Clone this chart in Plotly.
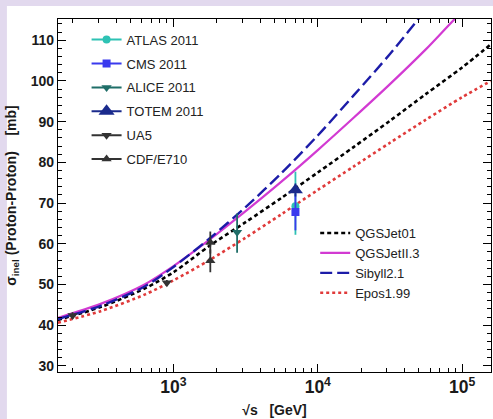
import plotly.graph_objects as go

# ---------------- data ----------------
model_E = [158, 316, 631, 1000, 1778, 3162, 5623, 10000, 17783, 31623, 56234, 100000, 158489]
qgsjet01 = [41.3, 44.5, 49.0, 53.0, 59.5, 65.3, 71.3, 77.5, 83.8, 90.2, 96.8, 103.3, 109.0]
qgsjet2 = [41.8, 45.3, 50.0, 54.5, 61.0, 68.0, 75.3, 83.0, 91.0, 99.2, 107.8, 117.0, 123.0]
sibyll = [41.5, 44.8, 49.5, 54.3, 61.3, 69.0, 77.4, 86.6, 96.5, 106.6, 117.5, 128.0, 136.0]
epos = [40.6, 43.5, 47.5, 51.0, 56.0, 61.5, 67.3, 73.2, 79.0, 84.8, 90.5, 96.0, 100.0]

atlas_E = [7000]; atlas_s = [69.2]; atlas_up = [8.5]; atlas_dn = [7.0]
cms_E = [7000]; cms_s = [67.8]; cms_up = [4.5]; cms_dn = [4.5]
alice_E = [2760]; alice_s = [62.8]; alice_up = [4.6]; alice_dn = [5.0]
totem_E = [7000]; totem_s = [73.2]; totem_up = [1.6]; totem_dn = [1.6]
ua5_E = [200, 900]; ua5_s = [42.4, 50.4]; ua5_err = [0.8, 0.7]
cdf_E = [1800, 1800]; cdf_s = [60.3, 55.8]; cdf_err = [2.7, 2.8]

x_range_log = [2.2, 5.2]
y_range = [28.5, 115.2]

# ---------------- figure ----------------
FONT = "Liberation Sans, Arial, sans-serif"
fig = go.Figure()

curve_styles = [
    ("QGSJet01", qgsjet01, dict(color="black", width=2.6, dash="4px,3px")),
    ("QGSJetII.3", qgsjet2, dict(color="#d23ad2", width=2.2)),
    ("Sibyll2.1", sibyll, dict(color="#1c1ca8", width=2.4, dash="12px,5px")),
    ("Epos1.99", epos, dict(color="#e03a3a", width=2.6, dash="dot")),
]
for name, vals, ln in curve_styles:
    fig.add_trace(go.Scatter(x=model_E, y=vals, mode="lines", name=name,
                             line=dict(shape="spline", smoothing=0.8, **ln),
                             legend="legend2", legendgroup=name))

points = [
    ("ATLAS 2011", atlas_E, atlas_s, atlas_up, atlas_dn, "circle", 8, "#2ec2b4"),
    ("CMS 2011", cms_E, cms_s, cms_up, cms_dn, "square", 8, "#3a3aee"),
    ("ALICE 2011", alice_E, alice_s, alice_up, alice_dn, "triangle-down", 9, "#1f6e68"),
    ("TOTEM 2011", totem_E, totem_s, totem_up, totem_dn, "triangle-up", 13, "#1a2a8c"),
    ("UA5", ua5_E, ua5_s, ua5_err, ua5_err, "triangle-down", 9, "#333333"),
    ("CDF/E710", cdf_E, cdf_s, cdf_err, cdf_err, "triangle-up", 9, "#333333"),
]
for name, ex, ey, up, dn, sym, sz, col in points:
    fig.add_trace(go.Scatter(
        x=ex, y=ey, mode="markers", name=name, showlegend=False,
        marker=dict(symbol=sym, size=sz, color=col),
        error_y=dict(type="data", symmetric=False, array=up, arrayminus=dn,
                     color=col, thickness=1.8, width=0),
    ))
    fig.add_trace(go.Scatter(
        x=[None], y=[None], mode="lines+markers", name=name, legendgroup=name,
        marker=dict(symbol=sym, size=sz + (1 if sz > 10 else 0), color=col),
        line=dict(color=col, width=2), legend="legend",
    ))

# white panel over lavender background
fig.add_shape(type="rect", xref="paper", yref="paper",
              x0=-0.118, x1=1.01, y0=-0.14, y1=1.037,
              fillcolor="white", line=dict(width=0), layer="below")

axis_common = dict(showline=True, linecolor="black", linewidth=1.2, mirror="allticks",
                   ticks="inside", ticklen=8, tickwidth=1, tickcolor="black",
                   showgrid=False, zeroline=False,
                   tickfont=dict(family=FONT, size=14, color="#1a1a1a", weight="bold"))

fig.update_xaxes(type="log", range=x_range_log, dtick=1, exponentformat="power",
                 minor=dict(ticks="inside", ticklen=4, dtick="D1", tickcolor="black"),
                 title=dict(text="√s\u00a0\u00a0\u00a0[GeV]", standoff=8,
                            font=dict(family=FONT, size=14, color="#1a1a1a", weight="bold")),
                 **axis_common)
fig.update_yaxes(range=y_range, dtick=10, tick0=0,
                 minor=dict(ticks="inside", ticklen=4, dtick=2, tickcolor="black"),
                 title=dict(text="σ<sub>inel</sub> (Proton-Proton)\u00a0\u00a0\u00a0\u00a0[mb]",
                            standoff=10,
                            font=dict(family=FONT, size=14, color="#1a1a1a", weight="bold")),
                 **axis_common)

fig.update_layout(
    width=493, height=419,
    margin=dict(l=58, r=2, t=19, b=47),
    paper_bgcolor="#e2d9ee", plot_bgcolor="white",
    font=dict(family=FONT, color="#222"),
    legend=dict(x=0.066, y=0.984, xanchor="left", yanchor="top",
                bgcolor="rgba(0,0,0,0)", borderwidth=0, tracegroupgap=4,
                font=dict(family=FONT, size=13, color="#222")),
    legend2=dict(x=0.594, y=0.436, xanchor="left", yanchor="top",
                 bgcolor="rgba(0,0,0,0)", borderwidth=0, tracegroupgap=0,
                 font=dict(family=FONT, size=13, color="#222")),
    showlegend=True,
)

fig.write_html("out.html", config={"displayModeBar": False},
               post_script="document.body.style.margin='0';document.body.style.overflow='hidden';")
